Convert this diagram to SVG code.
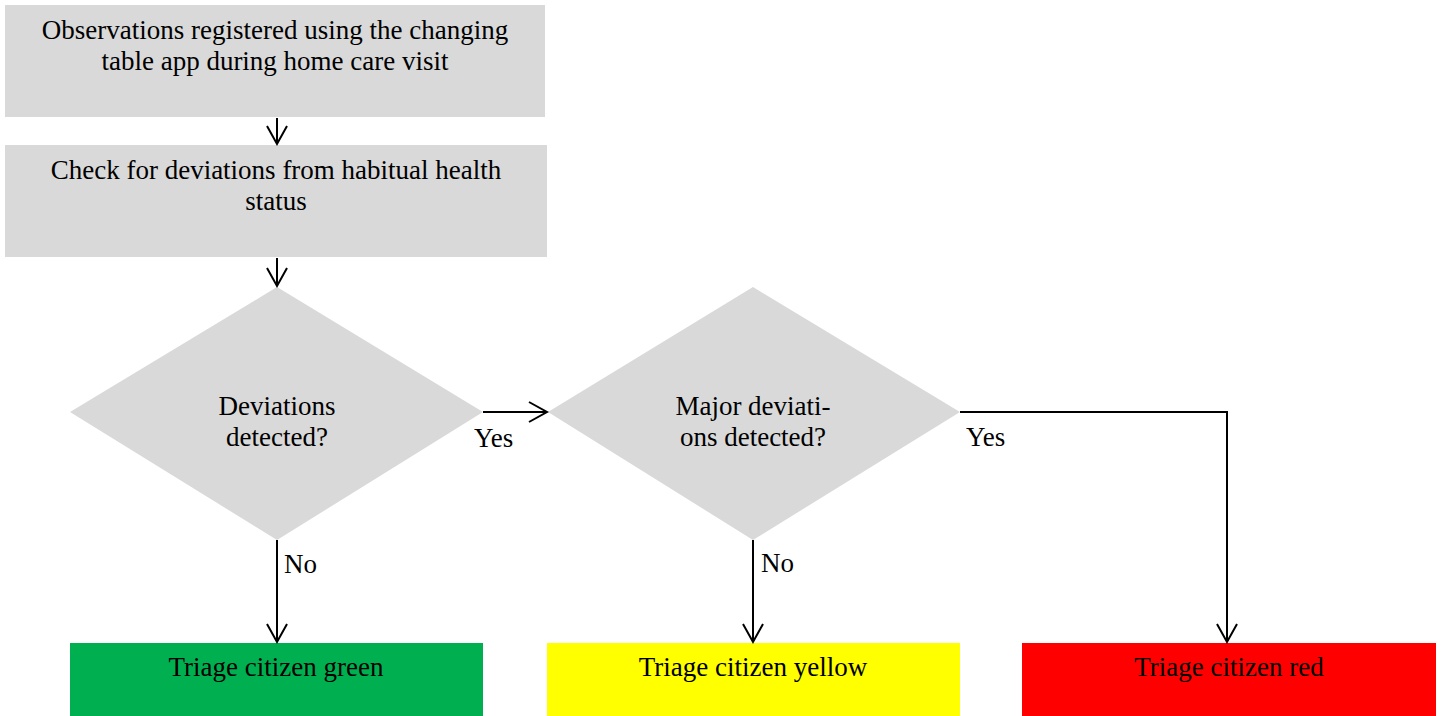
<svg xmlns="http://www.w3.org/2000/svg" width="1441" height="716" viewBox="0 0 1441 716">
<style>
text{font-family:"Liberation Serif","Times New Roman",serif;font-size:27px;fill:#000;text-anchor:middle}
.lbl{text-anchor:start}
.gray{fill:#d9d9d9}
.conn{fill:none;stroke:#000;stroke-width:2}
</style>
<defs>
<marker id="arr" markerUnits="userSpaceOnUse" markerWidth="24" markerHeight="24" viewBox="-20 -12 24 24" refX="0" refY="0" orient="auto">
<path d="M-18,-10 L0,0 L-18,10" fill="none" stroke="#000" stroke-width="2"/>
</marker>
</defs>
<rect width="1441" height="716" fill="#fff"/>
<g id="n1"><rect class="gray" x="5" y="5" width="540" height="112"/>
<text x="275" y="39">Observations registered using the changing</text>
<text x="275" y="70">table app during home care visit</text></g>
<g id="n2"><rect class="gray" x="5" y="145" width="542" height="112"/>
<text x="276" y="179">Check for deviations from habitual health</text>
<text x="276" y="210">status</text></g>
<g id="d1"><polygon class="gray" points="277,287 483,412 277,540 70,412"/>
<text x="277" y="415">Deviations</text>
<text x="277" y="446">detected?</text></g>
<g id="d2"><polygon class="gray" points="753,287 960,412 753,540 548,412"/>
<text x="753" y="415">Major deviati-</text>
<text x="753" y="446">ons detected?</text></g>
<g id="green"><rect x="70" y="643" width="413" height="73" fill="#00b050"/>
<text x="276" y="676">Triage citizen green</text></g>
<g id="yellow"><rect x="547" y="643" width="413" height="73" fill="#ffff00"/>
<text x="753" y="676">Triage citizen yellow</text></g>
<g id="red"><rect x="1022" y="643" width="414" height="73" fill="#ff0000"/>
<text x="1229" y="676">Triage citizen red</text></g>
<g id="connectors">
<path class="conn" d="M277,118 L277,144" marker-end="url(#arr)"/>
<path class="conn" d="M277,258 L277,286" marker-end="url(#arr)"/>
<path class="conn" d="M483,412 L547,412" marker-end="url(#arr)"/>
<path class="conn" d="M277,540 L277,642" marker-end="url(#arr)"/>
<path class="conn" d="M753,540 L753,642" marker-end="url(#arr)"/>
<path class="conn" d="M960,412 L1227,412 L1227,642" marker-end="url(#arr)"/>
<text class="lbl" x="474" y="447">Yes</text>
<text class="lbl" x="966" y="446">Yes</text>
<text class="lbl" x="284" y="573">No</text>
<text class="lbl" x="761" y="572">No</text>
</g>
</svg>
